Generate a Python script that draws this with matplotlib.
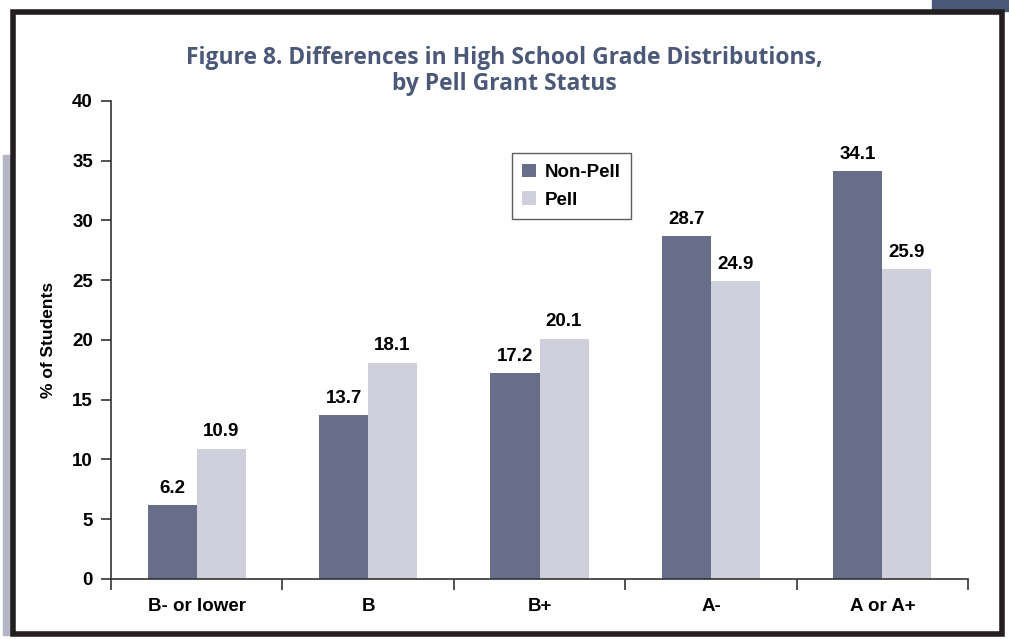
import matplotlib.pyplot as plt
import numpy as np
from matplotlib.patches import Rectangle

categories = ["B- or lower", "B", "B+", "A-", "A or A+"]
non_pell = [6.2, 13.7, 17.2, 28.7, 34.1]
pell = [10.9, 18.1, 20.1, 24.9, 25.9]

dark_bar = "#686d8a"
light_bar = "#cfd0dc"
title_col = "#4b5878"
font_size = 13.5

plt.rcParams['font.family'] = 'Liberation Sans'

fig = plt.figure(figsize=(10.09, 6.39), dpi=100)
ax = fig.add_axes([0.110, 0.094, 0.8494, 0.748])

ind = np.arange(len(categories))
width = 0.286

b1 = ax.bar(ind - width/2, non_pell, width, color=dark_bar, label="Non-Pell")
b2 = ax.bar(ind + width/2, pell, width, color=light_bar, label="Pell")

for bars, vals in ((b1, non_pell), (b2, pell)):
    for r, v in zip(bars, vals):
        ax.annotate("%.1f" % v, (r.get_x() + r.get_width()/2, v),
                    xytext=(0, 6), textcoords="offset points",
                    ha="center", va="bottom", fontsize=font_size, fontweight="bold")

ax.set_xlim(-0.5, len(categories) - 0.5)
ax.set_ylim(0, 40)
ax.set_yticks(np.arange(0, 41, 5))
ax.set_xticks(np.arange(-0.5, len(categories), 1))
ax.set_xticklabels([])
ax.set_xticks(ind, minor=True)
ax.set_xticklabels(categories, minor=True, fontsize=font_size, fontweight="bold")
ax.tick_params(axis='x', which='minor', length=0, pad=14)
ax.tick_params(axis='x', which='major', length=8, width=1.2, color="#333333")
ax.tick_params(axis='y', length=7, width=1.2, color="#333333", labelsize=font_size, pad=6)
for t in ax.get_yticklabels():
    t.set_fontweight("bold")

ax.spines['right'].set_visible(False)
ax.spines['top'].set_visible(False)
ax.spines['left'].set_color("#333333")
ax.spines['bottom'].set_color("#333333")
ax.spines['left'].set_linewidth(1.2)
ax.spines['bottom'].set_linewidth(1.2)

ax.set_ylabel("% of Students", fontsize=12.5, fontweight="bold", labelpad=12)

leg = ax.legend(loc="upper left", bbox_to_anchor=(0.457, 0.91),
                prop={'weight': 'bold', 'size': font_size}, fancybox=False,
                edgecolor="#333333", handlelength=0.75, handleheight=0.75,
                handletextpad=0.45, labelspacing=0.55, borderpad=0.55)
leg.get_frame().set_linewidth(1.0)

fig.text(0.5, 0.889, "Figure 8. Differences in High School Grade Distributions,\nby Pell Grant Status",
         ha="center", va="center", fontsize=16.5, fontweight="bold", color=title_col,
         family="Open Sans", linespacing=1.15)

# page decoration: frame, side strips
fig.patches.append(Rectangle((932/1009, 1 - 11/639), 77/1009, 11/639,
                             transform=fig.transFigure, color="#4b5878", zorder=0))
fig.patches.append(Rectangle((3/1009, 4/639), 7/1009, 480/639,
                             transform=fig.transFigure, color="#b4b6c4", zorder=0))
fig.patches.append(Rectangle((12.5/1009, 5/639), 989/1009, 622/639,
                             transform=fig.transFigure, fill=False,
                             edgecolor="#231f20", linewidth=4, zorder=1))

plt.savefig("out.png", dpi=100)
